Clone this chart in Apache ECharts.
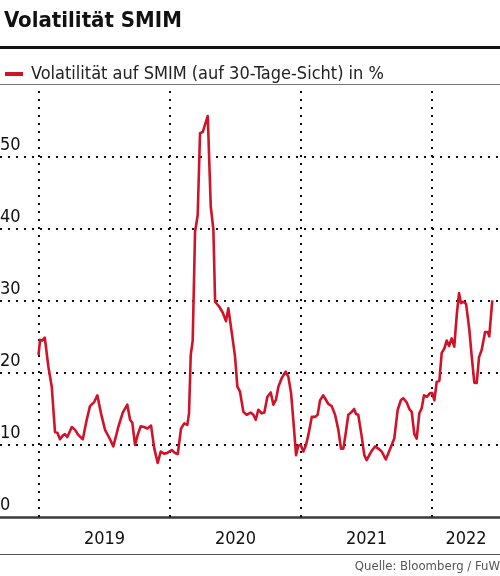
<!DOCTYPE html>
<html>
<head>
<meta charset="utf-8">
<script src="https://cdn.jsdelivr.net/npm/echarts@6/dist/echarts.min.js"></script>
<style>
  html, body { margin: 0; padding: 0; background: #fff; }
  #chart { width: 500px; height: 576px; }
</style>
</head>
<body>
<div id="chart"></div>
<script>
// ---- data (decimal years, volatility in %) ----
const dates = [
  2018.996, 2019.008, 2019.025, 2019.044, 2019.071, 2019.097, 2019.122, 2019.140, 2019.160, 2019.181,
  2019.198, 2019.216, 2019.250, 2019.275, 2019.300, 2019.334, 2019.364, 2019.389, 2019.422, 2019.445,
  2019.473, 2019.504, 2019.542, 2019.567, 2019.582, 2019.605, 2019.639, 2019.674, 2019.695, 2019.712,
  2019.733, 2019.753, 2019.776, 2019.802, 2019.827, 2019.855, 2019.880, 2019.906, 2019.929, 2019.954,
  2019.979, 2020.013, 2020.038, 2020.059, 2020.084, 2020.109, 2020.132, 2020.145, 2020.158, 2020.173,
  2020.191, 2020.211, 2020.229, 2020.250, 2020.288, 2020.311, 2020.331, 2020.344, 2020.376, 2020.402,
  2020.427, 2020.445, 2020.479, 2020.496, 2020.514, 2020.534, 2020.560, 2020.585, 2020.616, 2020.636,
  2020.654, 2020.674, 2020.700, 2020.720, 2020.743, 2020.769, 2020.789, 2020.809, 2020.827, 2020.853,
  2020.883, 2020.903, 2020.924, 2020.941, 2020.962, 2020.979, 2020.998, 2021.018, 2021.038, 2021.056,
  2021.082, 2021.107, 2021.127, 2021.145, 2021.170, 2021.191, 2021.208, 2021.234, 2021.260, 2021.285,
  2021.305, 2021.323, 2021.341, 2021.361, 2021.387, 2021.405, 2021.420, 2021.437, 2021.463, 2021.483,
  2021.501, 2021.527, 2021.544, 2021.565, 2021.590, 2021.616, 2021.647, 2021.672, 2021.692, 2021.712,
  2021.738, 2021.763, 2021.781, 2021.807, 2021.827, 2021.845, 2021.865, 2021.883, 2021.903, 2021.921,
  2021.939, 2021.960, 2021.985, 2022.002, 2022.018, 2022.036, 2022.056, 2022.074, 2022.094, 2022.112,
  2022.130, 2022.150, 2022.170, 2022.189, 2022.206, 2022.221, 2022.239, 2022.260, 2022.285, 2022.303,
  2022.323, 2022.341, 2022.359, 2022.379, 2022.405, 2022.425, 2022.437, 2022.460
];
const volatility = [
  22.5, 24.6, 24.5, 24.9, 20.9, 18.1, 11.8, 11.7, 10.8, 11.3,
  11.5, 11.1, 12.5, 12.1, 11.4, 10.8, 13.5, 15.4, 16.0, 16.9,
  14.4, 12.1, 10.8, 9.8, 9.8, 12.5, 14.5, 15.6, 13.5, 13.1,
  10.0, 11.4, 12.6, 12.5, 12.3, 12.7, 9.5, 7.5, 9.1, 8.8,
  8.9, 9.3, 8.9, 8.75, 12.3, 13.0, 12.8, 14.4, 22.5, 24.5,
  39.6, 41.9, 53.3, 53.5, 55.7, 43.1, 39.9, 29.9, 29.2, 28.4,
  27.2, 29.0, 24.6, 22.3, 18.1, 17.4, 14.6, 14.2, 14.5, 14.2,
  13.5, 14.9, 14.4, 14.5, 16.7, 17.3, 15.6, 16.3, 18.1, 19.3,
  20.2, 19.5, 17.2, 13.5, 8.6, 9.9, 10.0, 9.1, 10.0, 11.4,
  13.9, 13.9, 14.2, 16.2, 16.9, 16.25, 15.7, 15.4, 14.2, 12.1,
  9.5, 9.5, 11.6, 14.2, 14.6, 15.0, 14.3, 14.2, 11.2, 8.6,
  7.9, 8.8, 9.3, 9.8, 9.5, 9.1, 8.0, 9.1, 10.0, 10.9,
  14.9, 16.25, 16.5, 15.9, 15.0, 14.6, 11.5, 10.9, 14.4, 15.1,
  16.9, 16.7, 17.2, 17.2, 16.2, 18.8, 18.9, 22.8, 23.4, 24.5,
  23.75, 24.8, 23.65, 28.1, 31.1, 29.7, 29.9, 29.6, 26.0, 22.3,
  18.65, 18.6, 22.2, 23.2, 25.7, 25.7, 25.1, 30.1
];
const yearBoundaries = [2019, 2020, 2021, 2022];
const yearLabelPositions = [2019.5, 2020.5, 2021.5, 2022.26];

const titleText = 'Volatilität SMIM';
const seriesName = 'Volatilität auf SMIM (auf 30-Tage-Sicht) in %';
const sourceText = 'Quelle: Bloomberg / FuW';

const FONT = '"Liberation Sans Narrow", "DejaVu Sans Condensed", "Noto Sans", sans-serif';
const RED = '#d1132a';

const chart = echarts.init(document.getElementById('chart'), null, { renderer: 'canvas' });

const option = {
  backgroundColor: '#fff',
  animation: false,
  textStyle: { fontFamily: FONT },
  title: {
    text: titleText,
    left: -1, top: 5,
    textStyle: { fontFamily: FONT, fontWeight: 'bold', fontSize: 22, color: '#111' }
  },
  legend: {
    left: 0, top: 60,
    icon: 'rect',
    itemWidth: 18, itemHeight: 4,
    data: [seriesName],
    textStyle: { fontFamily: FONT, fontSize: 18, color: '#222', padding: [0, 0, 0, 3] }
  },
  grid: { left: 0, right: 0, top: 85, bottom: 59, containLabel: false, outerBoundsMode: 'none' },
  xAxis: {
    type: 'value',
    min: 2018.702,
    max: 2022.519,
    axisLine: { show: true, onZero: false, lineStyle: { color: '#3a3a3a', width: 2.5 } },
    axisTick: { show: false },
    splitLine: { show: false },
    axisLabel: {
      customValues: yearLabelPositions,
      formatter: v => String(Math.floor(v)),
      fontFamily: FONT, fontSize: 18, color: '#111', margin: 13
    }
  },
  yAxis: {
    type: 'value',
    min: 0, max: 60, interval: 10,
    axisLine: { show: false },
    axisTick: { show: false },
    splitLine: {
      show: true,
      showMinLine: false,
      showMaxLine: false,
      lineStyle: { color: '#111', width: 2, type: [2, 6] }
    },
    axisLabel: {
      inside: true,
      showMaxLabel: false,
      margin: 0,
      verticalAlign: 'bottom',
      padding: [0, 0, 3, 0],
      fontFamily: FONT, fontSize: 18, color: '#111'
    }
  },
  series: [{
    name: seriesName,
    type: 'line',
    data: dates.map((d, i) => [d, volatility[i]]),
    showSymbol: false,
    lineStyle: { color: RED, width: 2.6, join: 'round' },
    itemStyle: { color: RED },
    z: 5,
    markLine: {
      silent: true,
      symbol: ['none', 'none'],
      label: { show: false },
      lineStyle: { color: '#111', width: 2, type: [2, 6] },
      data: yearBoundaries.map(y => ({ xAxis: y })),
      z: 1
    }
  }],
  graphic: [
    { type: 'rect', left: 0, top: 46, shape: { width: 500, height: 3 }, style: { fill: '#111' } },
    { type: 'rect', left: 0, top: 84, shape: { width: 500, height: 1 }, style: { fill: '#777' } },
    { type: 'rect', left: 0, top: 554, shape: { width: 500, height: 1 }, style: { fill: '#555' } },
    {
      type: 'text', right: 0, top: 560,
      style: { text: sourceText, font: '13px ' + FONT, fill: '#555' }
    }
  ]
};

chart.setOption(option);
</script>
</body>
</html>
